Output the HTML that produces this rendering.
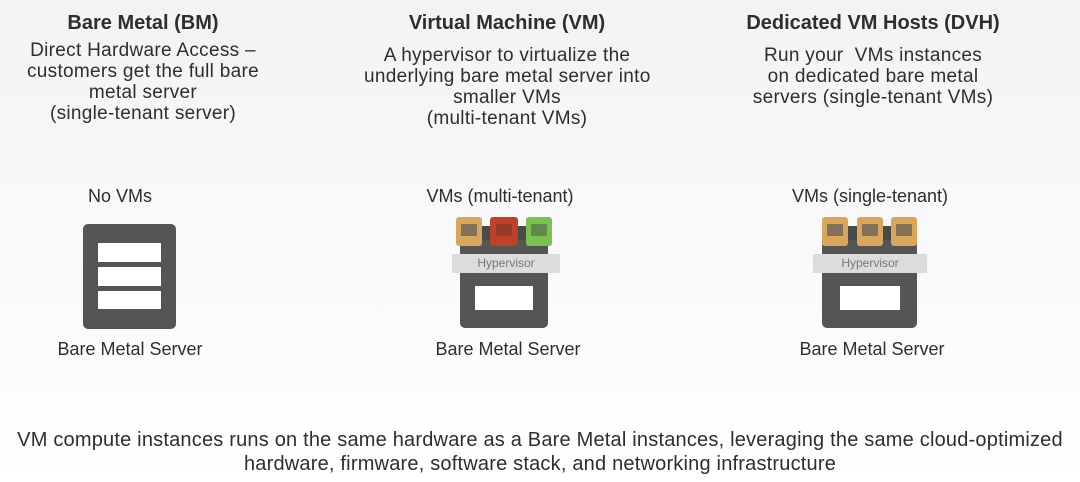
<!DOCTYPE html>
<html><head><meta charset="utf-8"><style>
body{margin:0;width:1080px;height:482px;overflow:hidden;background:linear-gradient(180deg,#f3f3f3 0%,#fafafa 60%,#ffffff 100%);font-family:"Liberation Sans",sans-serif;color:#2e2e2e;position:relative}
.t{position:absolute;text-align:center;white-space:nowrap}
.h{font-weight:bold;font-size:20px}
.d{font-size:19px;line-height:21px;letter-spacing:0.3px}
.s{font-size:18px}
.a{position:absolute}
.dk{background:#555}
.w{background:#fff}
.vm{position:absolute;width:26px;height:29px;border-radius:3px}
.vm i{position:absolute;left:5px;top:7px;width:16px;height:12px;background:#6b6358;opacity:.8}
.hv{position:absolute;background:#dcdcdc;font-size:12px;color:#777;text-align:center;line-height:19px}
</style></head><body>
<div class="t h" style="left:0;width:286px;top:12px">Bare Metal (BM)</div>
<div class="t d" style="left:0;width:286px;top:40px">Direct Hardware Access –<br>customers get the full bare<br>metal server<br>(single-tenant server)</div>
<div class="t h" style="left:364px;width:286px;top:12px">Virtual Machine (VM)</div>
<div class="t d" style="left:364px;width:286px;top:45px">A hypervisor to virtualize the<br>underlying bare metal server into<br>smaller VMs<br>(multi-tenant VMs)</div>
<div class="t h" style="left:730px;width:286px;top:12px">Dedicated VM Hosts (DVH)</div>
<div class="t d" style="left:730px;width:286px;top:45px">Run your&nbsp; VMs instances<br>on dedicated bare metal<br>servers (single-tenant VMs)</div>

<div class="t s" style="left:50px;width:140px;top:186px">No VMs</div>
<div class="t s" style="left:410px;width:180px;top:186px">VMs (multi-tenant)</div>
<div class="t s" style="left:775px;width:190px;top:186px">VMs (single-tenant)</div>

<!-- BM -->
<div class="a dk" style="left:83px;top:224px;width:93px;height:105px;border-radius:5px"></div>
<div class="a w" style="left:98px;top:243px;width:63px;height:19px"></div>
<div class="a w" style="left:98px;top:267px;width:63px;height:19px"></div>
<div class="a w" style="left:98px;top:291px;width:63px;height:18px"></div>

<!-- VM -->
<div class="a dk" style="left:460px;top:240px;width:88px;height:88px;border-radius:5px"></div>
<div class="a w" style="left:475px;top:286px;width:58px;height:24px"></div>
<div class="a" style="left:462px;top:226px;width:84px;height:14px;background:#4a4a4a"></div>
<div class="vm" style="left:456px;top:217px;background:#d9a75c"><i></i></div>
<div class="vm" style="left:490px;top:217px;width:28px;background:#c0412a"><i style="background:#8a3a2a;left:6px"></i></div>
<div class="vm" style="left:526px;top:217px;background:#7cc04f"><i style="background:#5a7a4a"></i></div>
<div class="hv" style="left:452px;top:254px;width:108px;height:19px">Hypervisor</div>

<!-- DVH -->
<div class="a dk" style="left:822px;top:240px;width:95px;height:88px;border-radius:5px"></div>
<div class="a w" style="left:840px;top:286px;width:60px;height:24px"></div>
<div class="a" style="left:824px;top:226px;width:90px;height:14px;background:#4a4a4a"></div>
<div class="vm" style="left:822px;top:217px;background:#d9a75c"><i></i></div>
<div class="vm" style="left:857px;top:217px;background:#d9a75c"><i></i></div>
<div class="vm" style="left:891px;top:217px;background:#d9a75c"><i></i></div>
<div class="hv" style="left:813px;top:254px;width:114px;height:19px">Hypervisor</div>

<div class="t s" style="left:30px;width:200px;top:339px">Bare Metal Server</div>
<div class="t s" style="left:408px;width:200px;top:339px">Bare Metal Server</div>
<div class="t s" style="left:772px;width:200px;top:339px">Bare Metal Server</div>

<div class="t" style="left:0;width:1080px;top:428px;font-size:20px;line-height:24px;letter-spacing:0.2px">VM compute instances runs on the same hardware as a Bare Metal instances, leveraging the same cloud-optimized<br>hardware, firmware, software stack, and networking infrastructure</div>
</body></html>
